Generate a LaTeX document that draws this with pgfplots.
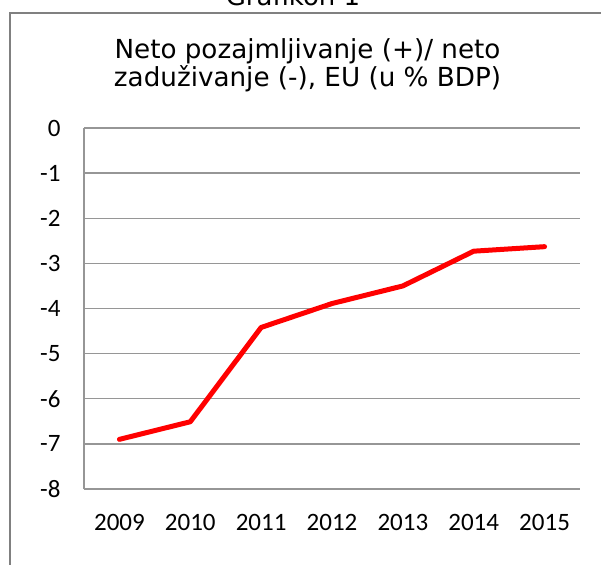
\documentclass[border=0pt]{standalone}
\usepackage{pgfplots}
\pgfplotsset{compat=1.18}
\usepackage{fontspec}
\setmainfont{DejaVu Sans}
\newfontfamily\calibri{Carlito}
\definecolor{gridgray}{RGB}{150,150,150}
\definecolor{framegray}{RGB}{128,128,128}
\begin{document}
\begin{tikzpicture}[x=1pt,y=1pt]
\useasboundingbox (0,0) rectangle (601,564);
\draw[framegray, line width=2pt] (10,-10) -- (10,551) -- (620,551);
\node[font=\fontsize{26}{28.4}\selectfont, anchor=base, inner sep=0pt] at (293,558.5) {Grafikon 1};
\node[font=\fontsize{26.2}{28.4}\selectfont, anchor=base, inner sep=0pt] at (307.5,505.7) {Neto pozajmljivanje (+)/ neto};
\node[font=\fontsize{26.2}{28.4}\selectfont, anchor=base, inner sep=0pt] at (307.5,477.3) {zaduživanje (-), EU (u \% BDP)};
\begin{axis}[
  at={(84pt,75pt)}, anchor=south west, scale only axis,
  width=496pt, height=361pt,
  xmin=-0.5, xmax=6.5, ymin=-8, ymax=0,
  ytick={-8,-7,-6,-5,-4,-3,-2,-1,0},
  xtick={0,1,2,3,4,5,6},
  xticklabels={2009,2010,2011,2012,2013,2014,2015},
  ymajorgrids,
  grid style={gridgray, line width=1.3pt},
  axis x line*=bottom, axis y line*=left,
  axis line style={gridgray, line width=1.3pt, -},
  tick style={draw=none},
  ticklabel style={font=\calibri\fontsize{25}{25}\selectfont},
  /pgf/number format/assume math mode=true,
  yticklabel style={xshift=-20pt},
  xticklabel style={yshift=-22pt},
  clip=false,
]
\addplot[color={rgb,255:red,255;green,0;blue,0}, line width=5pt, line join=round, line cap=round] coordinates {
(0,-6.90) (1,-6.51) (2,-4.42) (3,-3.89) (4,-3.50) (5,-2.73) (6,-2.63)
};
\end{axis}
\end{tikzpicture}
\end{document}
